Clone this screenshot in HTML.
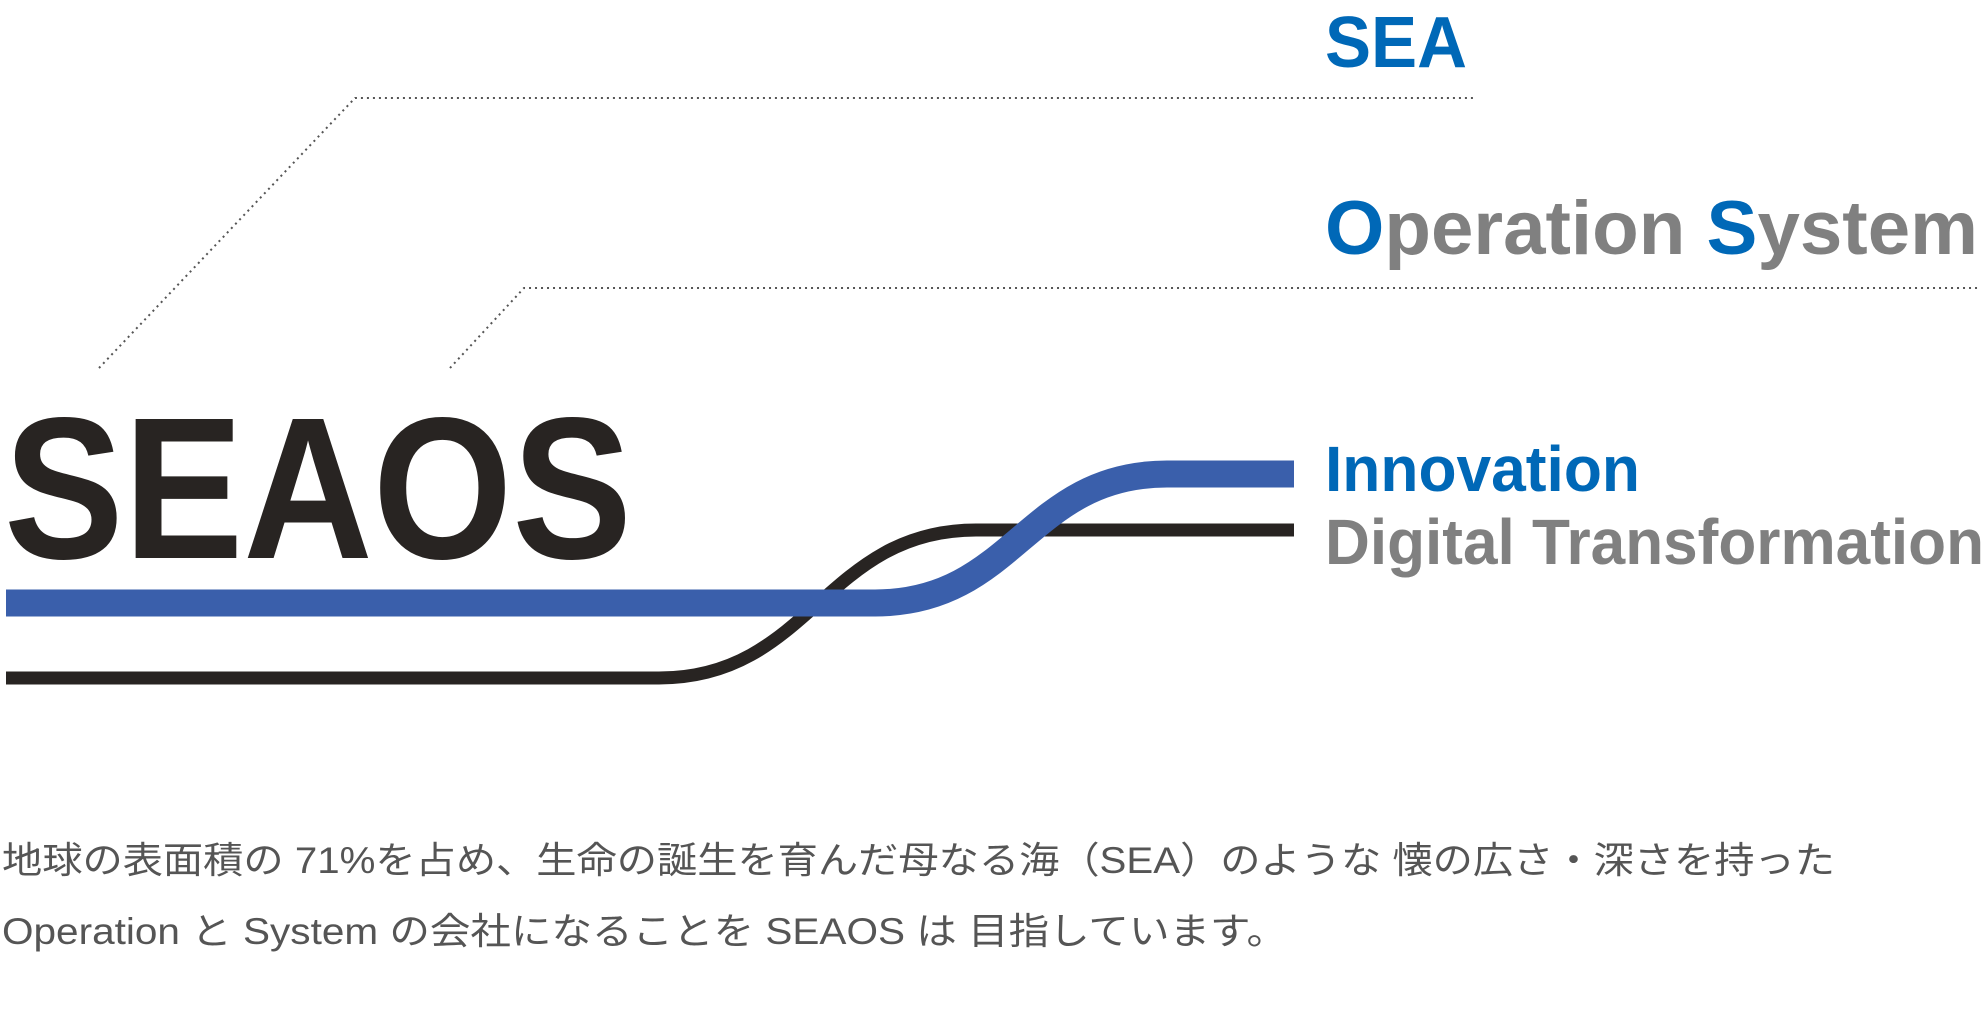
<!DOCTYPE html>
<html><head><meta charset="utf-8"><style>
html,body{margin:0;padding:0;background:#fff;}
svg{display:block;}
</style></head><body>
<svg width="1988" height="1010" viewBox="0 0 1988 1010" xmlns="http://www.w3.org/2000/svg">
<g fill="none" stroke="#555" stroke-width="2" stroke-dasharray="2,4">
<polyline points="99,368 355,98 1473,98"/>
<polyline points="450,368 524,288 1978,288"/>
</g>
<text x="1325" y="67" font-family="Liberation Sans, sans-serif" font-weight="bold" font-size="72" fill="#0068b7" textLength="142" lengthAdjust="spacingAndGlyphs">SEA</text>
<text x="1325" y="254" font-family="Liberation Sans, sans-serif" font-weight="bold" font-size="76" fill="#808080" textLength="653" lengthAdjust="spacingAndGlyphs"><tspan fill="#0068b7">O</tspan>peration <tspan fill="#0068b7">S</tspan>ystem</text>
<text x="4" y="558" font-family="Liberation Sans, sans-serif" font-weight="bold" font-size="202" fill="#282422" textLength="628" lengthAdjust="spacingAndGlyphs">SEAOS</text>
<path d="M6,678 H659 C810,678 825,530 976,530 H1294" fill="none" stroke="#282422" stroke-width="13"/>
<path d="M6,603 H875 C1015,603 1027,474 1167,474 H1294" fill="none" stroke="#3a5fab" stroke-width="27"/>
<text x="1325" y="491" font-family="Liberation Sans, sans-serif" font-weight="bold" font-size="64" fill="#0068b7" textLength="315" lengthAdjust="spacingAndGlyphs">Innovation</text>
<text x="1325" y="564" font-family="Liberation Sans, sans-serif" font-weight="bold" font-size="64" fill="#808080" textLength="659" lengthAdjust="spacingAndGlyphs">Digital Transformation</text>
<text x="2" y="873" font-family="Liberation Sans, 'Noto Sans CJK JP', sans-serif" font-size="37" fill="#555" textLength="1833" lengthAdjust="spacingAndGlyphs">地球の表面積の 71%を占め、生命の誕生を育んだ母なる海（SEA）のような 懐の広さ・深さを持った</text>
<text x="2" y="944" font-family="Liberation Sans, 'Noto Sans CJK JP', sans-serif" font-size="37" fill="#555" textLength="1285" lengthAdjust="spacingAndGlyphs">Operation と System の会社になることを SEAOS は 目指しています。</text>
</svg>
</body></html>
